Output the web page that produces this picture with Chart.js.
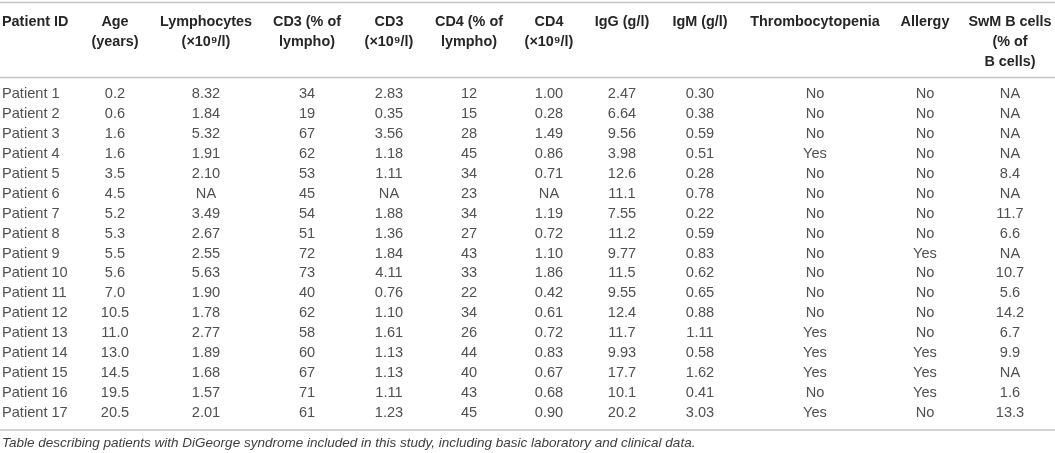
<!DOCTYPE html>
<html>
<head>
<meta charset="utf-8">
<script src="https://cdn.jsdelivr.net/npm/chart.js@4/dist/chart.umd.min.js"></script>
<style>
  html, body { margin: 0; padding: 0; background: #ffffff; }
  #wrap { width: 1055px; height: 453px; }
</style>
</head>
<body>
<div id="wrap"><canvas id="c" width="1055" height="453"></canvas></div>
<script>
// ---- Data ----
const patientIds = ["Patient 1","Patient 2","Patient 3","Patient 4","Patient 5","Patient 6","Patient 7","Patient 8","Patient 9","Patient 10","Patient 11","Patient 12","Patient 13","Patient 14","Patient 15","Patient 16","Patient 17"];
const ageYears = ["0.2","0.6","1.6","1.6","3.5","4.5","5.2","5.3","5.5","5.6","7.0","10.5","11.0","13.0","14.5","19.5","20.5"];
const lymphocytes = ["8.32","1.84","5.32","1.91","2.10","NA","3.49","2.67","2.55","5.63","1.90","1.78","2.77","1.89","1.68","1.57","2.01"];
const cd3Pct = ["34","19","67","62","53","45","54","51","72","73","40","62","58","60","67","71","61"];
const cd3Abs = ["2.83","0.35","3.56","1.18","1.11","NA","1.88","1.36","1.84","4.11","0.76","1.10","1.61","1.13","1.13","1.11","1.23"];
const cd4Pct = ["12","15","28","45","34","23","34","27","43","33","22","34","26","44","40","43","45"];
const cd4Abs = ["1.00","0.28","1.49","0.86","0.71","NA","1.19","0.72","1.10","1.86","0.42","0.61","0.72","0.83","0.67","0.68","0.90"];
const iggGl = ["2.47","6.64","9.56","3.98","12.6","11.1","7.55","11.2","9.77","11.5","9.55","12.4","11.7","9.93","17.7","10.1","20.2"];
const igmGl = ["0.30","0.38","0.59","0.51","0.28","0.78","0.22","0.59","0.83","0.62","0.65","0.88","1.11","0.58","1.62","0.41","3.03"];
const thrombocytopenia = ["No","No","No","Yes","No","No","No","No","No","No","No","No","Yes","Yes","Yes","No","Yes"];
const allergy = ["No","No","No","No","No","No","No","No","Yes","No","No","No","No","Yes","Yes","Yes","No"];
const swmBCells = ["NA","NA","NA","NA","8.4","NA","11.7","6.6","NA","10.7","5.6","14.2","6.7","9.9","NA","1.6","13.3"];

const headers = [
  ["Patient ID"],
  ["Age","(years)"],
  ["Lymphocytes","(\u00d710\u2079/l)"],
  ["CD3 (% of","lympho)"],
  ["CD3","(\u00d710\u2079/l)"],
  ["CD4 (% of","lympho)"],
  ["CD4","(\u00d710\u2079/l)"],
  ["IgG (g/l)"],
  ["IgM (g/l)"],
  ["Thrombocytopenia"],
  ["Allergy"],
  ["SwM B cells","(% of","B cells)"]
];
const caption = "Table describing patients with DiGeorge syndrome included in this study, including basic laboratory and clinical data.";

const columnsData = [patientIds, ageYears, lymphocytes, cd3Pct, cd3Abs, cd4Pct, cd4Abs, iggGl, igmGl, thrombocytopenia, allergy, swmBCells];

// ---- Layout (column anchor positions on the x scale, 0..1055) ----
const colAnchor = [2, 115, 206, 307, 389, 469, 549, 622, 700, 815, 925, 1010];
const colAlign  = ["left","center","center","center","center","center","center","center","center","center","center","center"];

const FONT = "'Liberation Sans', Arial, Helvetica, sans-serif";

const datasets = columnsData.map((col, ci) => ({
  label: headers[ci].join(" "),
  data: col.map((v, ri) => ({ x: colAnchor[ci], y: patientIds[ri], text: v })),
  pointRadius: 0,
  pointHoverRadius: 0,
  showLine: false,
  colAlign: colAlign[ci]
}));

const tablePlugin = {
  id: 'tablePlugin',
  afterDraw(chart) {
    const ctx = chart.ctx;
    const area = chart.chartArea;
    const xs = chart.scales.x;
    const W = chart.width;
    ctx.save();
    // rules
    ctx.strokeStyle = '#c4c4c4';
    ctx.lineWidth = 1.6;
    [2.5, area.top - 7, area.bottom + 7.5].forEach(y => {
      ctx.beginPath(); ctx.moveTo(0, y); ctx.lineTo(W, y); ctx.stroke();
    });
    // header
    ctx.fillStyle = '#262626';
    ctx.font = "bold 14.4px " + FONT;
    ctx.textBaseline = 'middle';
    const headerLineY = [area.top - 62.8, area.top - 42.5, area.top - 22.3];
    headers.forEach((lines, ci) => {
      ctx.textAlign = colAlign[ci];
      const x = xs.getPixelForValue(colAnchor[ci]);
      lines.forEach((t, li) => ctx.fillText(t, x, headerLineY[li]));
    });
    // cells
    ctx.fillStyle = '#505050';
    ctx.font = "14.6px " + FONT;
    chart.data.datasets.forEach((ds, di) => {
      const meta = chart.getDatasetMeta(di);
      ctx.textAlign = ds.colAlign;
      meta.data.forEach((pt, i) => {
        ctx.fillText(ds.data[i].text, pt.x, pt.y);
      });
    });
    // caption
    ctx.fillStyle = '#404040';
    ctx.font = "italic 13.5px " + FONT;
    ctx.textAlign = 'left';
    ctx.fillText(caption, 2, area.bottom + 20.5);
    ctx.restore();
  }
};

new Chart(document.getElementById('c'), {
  type: 'scatter',
  data: { datasets },
  options: {
    responsive: false,
    animation: false,
    events: [],
    layout: { padding: { top: 84.5, bottom: 30.5, left: 0, right: 0 } },
    plugins: { legend: { display: false }, tooltip: { enabled: false }, title: { display: false } },
    scales: {
      x: { type: 'linear', min: 0, max: 1055, display: false },
      y: { type: 'category', labels: patientIds, offset: true, display: false }
    }
  },
  plugins: [tablePlugin]
});
</script>
</body>
</html>
